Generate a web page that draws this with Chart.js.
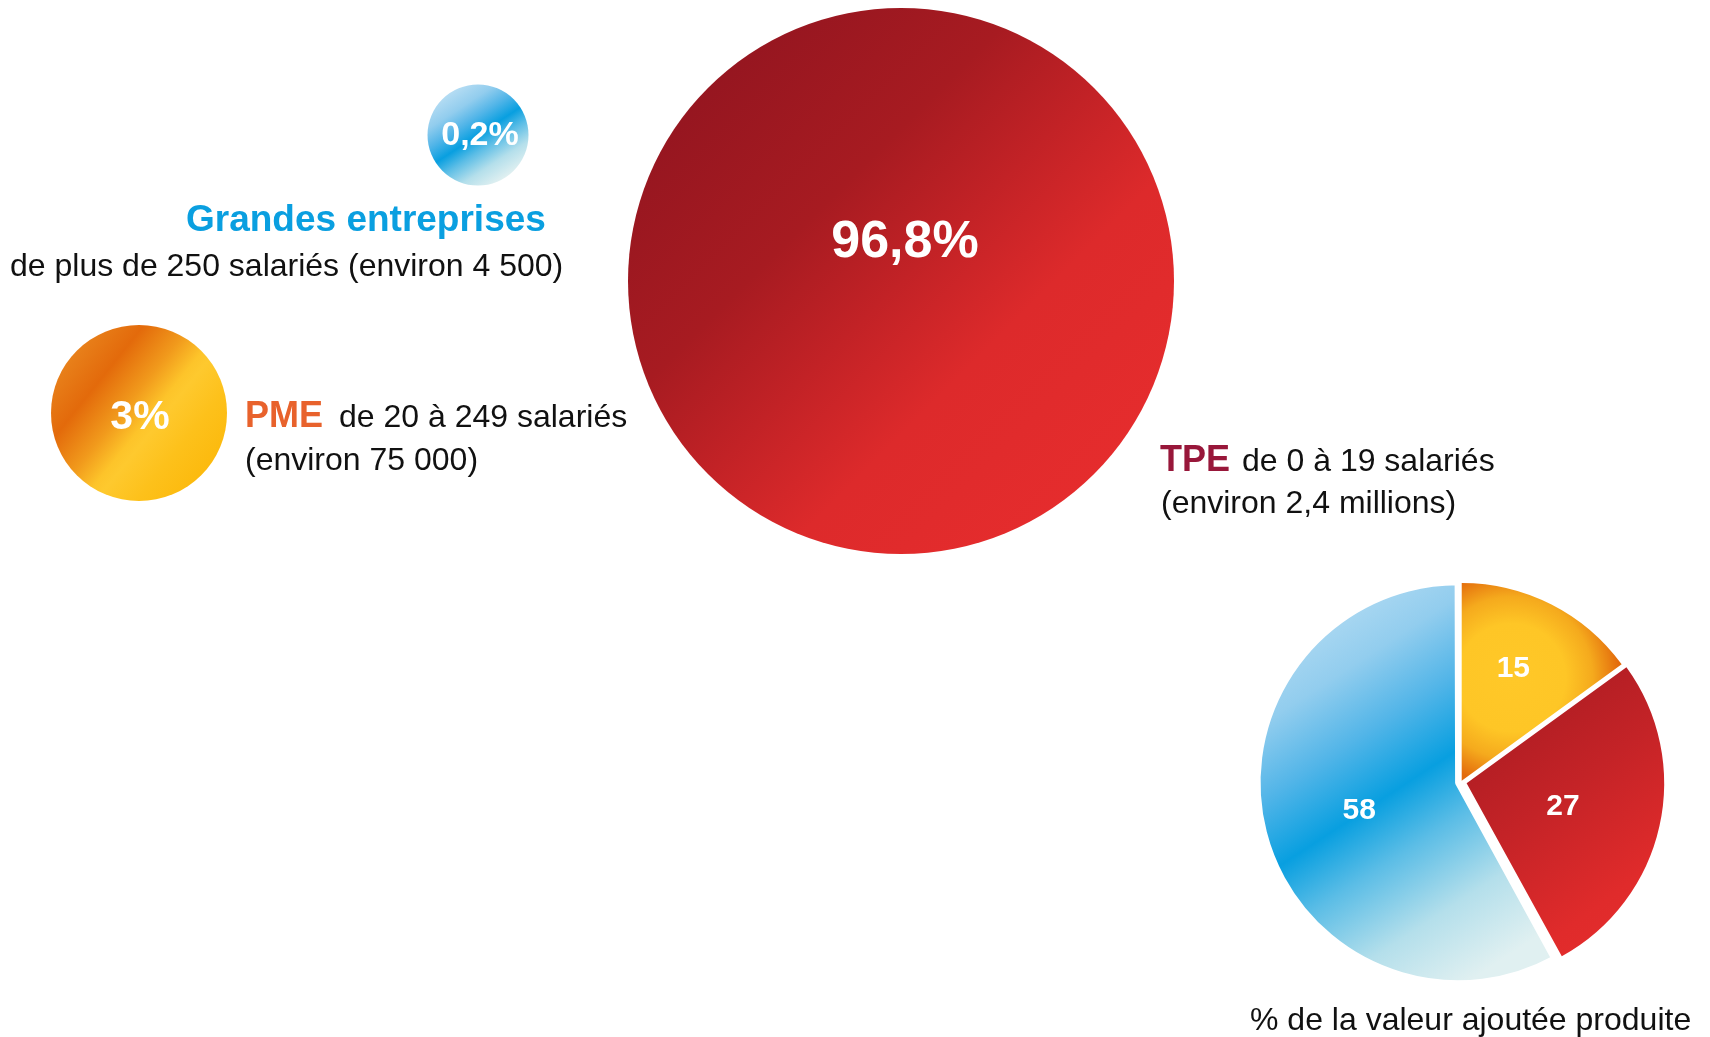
<!DOCTYPE html>
<html lang="fr">
<head>
<meta charset="utf-8">
<title>Entreprises par taille</title>
<script src="https://cdn.jsdelivr.net/npm/chart.js@4.4.1/dist/chart.umd.min.js"></script>
<style>
  html, body { margin:0; padding:0; background:#fff; }
  body { width:1710px; height:1037px; position:relative; overflow:hidden;
         font-family:"Liberation Sans", Arial, Helvetica, sans-serif; color:#111; }
  #bubbleBox { position:absolute; left:0; top:0; width:1710px; height:1037px; }
  #pieBox { position:absolute; left:1231px; top:552px; width:460px; height:460px; }
  .t { position:absolute; white-space:nowrap; line-height:1; font-size:32px; }
  .b { font-weight:bold; font-size:36px; line-height:1; }
</style>
</head>
<body>
<div id="bubbleBox"><canvas id="bubbles"></canvas></div>
<div id="pieBox"><canvas id="pie"></canvas></div>

<div class="t" style="left:186px;top:200px"><span class="b" style="color:#0a9fe0;font-size:37px">Grandes entreprises</span></div>
<div class="t" style="left:10px;top:249px">de plus de 250 salariés (environ 4 500)</div>

<div class="t" style="left:245px;top:397px"><span class="b" style="color:#e8622c">PME</span><span style="margin-left:16px">de 20 à 249 salariés</span></div>
<div class="t" style="left:245px;top:443px">(environ 75 000)</div>

<div class="t" style="left:1160px;top:441px"><span class="b" style="color:#98173a">TPE</span><span style="margin-left:12px">de 0 à 19 salariés</span></div>
<div class="t" style="left:1161px;top:486px">(environ 2,4 millions)</div>

<div class="t" style="left:1250px;top:1003px">% de la valeur ajoutée produite</div>

<script>
// values
const categories   = ["Grandes entreprises", "PME", "TPE"];
const shareOfFirms = [0.2, 3, 96.8];   // % du nombre d'entreprises
const valueAdded   = [58, 15, 27];     // % de la valeur ajoutée produite

// layout only (page pixels), not data
const bubbleLayout = {
  x: [478, 139, 901],
  y: [135, 413, 281],
  r: [50.5, 88, 273],
  labelDx: [2, 1, 4],
  labelDy: [10, 16, -24],
  labelSize: [34, 41, 52]
};
const pieOrder = [1, 2, 0];            // PME, TPE, Grandes from 12 o'clock
const PIE_R = 197.5;
const pieOffset = [6, 23, 12];         // chart.js moves a slice by offset/4
const pieBorder = [0, 0, 6];
const pieLabelPos = [0.617, 0.529, 0.532];
const pieLabelNudge = [[-3, -7], [0, 0], [0, 0]];
const FONT = '"Liberation Sans", Arial, sans-serif';

const BLUE = [[0,"#b4dcf3"],[0.18,"#92cdee"],[0.34,"#52b5e8"],[0.5,"#089fe0"],[0.64,"#5bbde6"],[0.82,"#b4dfeb"],[1,"#e0f0f1"]];
const ORANGE = [[0,"#e8801a"],[0.21,"#e36a0b"],[0.42,"#f19a1c"],[0.56,"#fdc42a"],[0.62,"#fec92e"],[0.8,"#fdc11b"],[1,"#fcba0e"]];
const RED = [[0,"#961620"],[0.3,"#a71b21"],[0.5,"#c22226"],[0.7,"#dd2a2b"],[1,"#e52c2d"]];
const ORANGE_RAD = [[0,"#ffc828"],[0.5,"#fec626"],[0.75,"#f5aa1d"],[1,"#e36b0c"]];
const RED_SLICE = [[0,"#a51a21"],[0.45,"#c42327"],[0.8,"#e02b2b"],[1,"#e52d2d"]];

function linear(ctx, cx, cy, half, dx, dy, stops){
  const g = ctx.createLinearGradient(cx-dx*half, cy-dy*half, cx+dx*half, cy+dy*half);
  stops.forEach(([o,c]) => g.addColorStop(o,c));
  return g;
}
function radial(ctx, cx, cy, rad, stops){
  const g = ctx.createRadialGradient(cx, cy, 0, cx, cy, rad);
  stops.forEach(([o,c]) => g.addColorStop(o,c));
  return g;
}

const bubbleFill = [
  (ctx,x,y,r) => linear(ctx, x, y, r, 0.546, 0.838, BLUE),
  (ctx,x,y,r) => linear(ctx, x, y, r, 0.78, 0.625, ORANGE),
  (ctx,x,y,r) => linear(ctx, x, y, r, 0.707, 0.707, RED)
];
const pieFill = [
  (ctx,cx,cy) => linear(ctx, cx-51, cy, 200, 0.546, 0.838, BLUE),
  (ctx,cx,cy) => radial(ctx, cx+50, cy-103, 108, ORANGE_RAD),
  (ctx,cx,cy) => linear(ctx, cx+98, cy+28, 160, 0.6, 0.8, RED_SLICE)
];

const fmtPct = v => String(v).replace(".", ",") + "%";

const bubbleLabels = {
  id: "bubbleLabels",
  afterDatasetsDraw(chart){
    const {ctx} = chart;
    ctx.save();
    ctx.fillStyle = "#fff";
    ctx.textAlign = "center";
    ctx.textBaseline = "alphabetic";
    chart.getDatasetMeta(0).data.forEach((el, i) => {
      ctx.font = `bold ${bubbleLayout.labelSize[i]}px ${FONT}`;
      ctx.fillText(fmtPct(shareOfFirms[i]), el.x + bubbleLayout.labelDx[i], el.y + bubbleLayout.labelDy[i]);
    });
    ctx.restore();
  }
};

const pieLabels = {
  id: "pieLabels",
  afterDatasetsDraw(chart){
    const {ctx} = chart;
    const vals = chart.data.datasets[0].data;
    ctx.save();
    ctx.fillStyle = "#fff";
    ctx.textAlign = "center";
    ctx.textBaseline = "alphabetic";
    ctx.font = `bold 30px ${FONT}`;
    chart.getDatasetMeta(0).data.forEach((arc, i) => {
      const p = arc.getProps(["x","y","startAngle","endAngle","outerRadius"], true);
      const mid = (p.startAngle + p.endAngle) / 2;
      const d = p.outerRadius * pieLabelPos[i];
      const [nx, ny] = pieLabelNudge[i];
      ctx.fillText(String(vals[i]), p.x + Math.cos(mid)*d + nx, p.y + Math.sin(mid)*d + 10.7 + ny);
    });
    ctx.restore();
  }
};

new Chart(document.getElementById("bubbles"), {
  type: "bubble",
  data: {
    labels: categories,
    datasets: [{
      data: shareOfFirms.map((v, i) => ({x: bubbleLayout.x[i], y: bubbleLayout.y[i], v})),
      radius: c => bubbleLayout.r[c.dataIndex] || 0,
      backgroundColor: c => {
        const ch = c.chart;
        if (!ch.chartArea || c.dataIndex == null) return "#ccc";
        const i = c.dataIndex;
        const px = ch.scales.x.getPixelForValue(bubbleLayout.x[i]);
        const py = ch.scales.y.getPixelForValue(bubbleLayout.y[i]);
        return bubbleFill[i](ch.ctx, px, py, bubbleLayout.r[i]);
      },
      borderWidth: 0,
      clip: false
    }]
  },
  options: {
    responsive: true, maintainAspectRatio: false, animation: false, events: [],
    layout: {padding: 0, autoPadding: false},
    scales: {
      x: {type: "linear", min: 0, max: 1710, display: false},
      y: {type: "linear", min: 0, max: 1037, reverse: true, display: false}
    },
    plugins: {legend: {display: false}, tooltip: {enabled: false}}
  },
  plugins: [bubbleLabels]
});

new Chart(document.getElementById("pie"), {
  type: "pie",
  data: {
    labels: pieOrder.map(i => categories[i]),
    datasets: [{
      data: pieOrder.map(i => valueAdded[i]),
      radius: PIE_R,
      backgroundColor: c => {
        const ch = c.chart, a = ch.chartArea;
        if (!a || c.dataIndex == null) return "#ccc";
        return pieFill[pieOrder[c.dataIndex]](ch.ctx, (a.left+a.right)/2, (a.top+a.bottom)/2);
      },
      borderColor: "#fff",
      borderWidth: pieBorder,
      offset: pieOffset
    }]
  },
  options: {
    responsive: true, maintainAspectRatio: false, animation: false, events: [],
    layout: {padding: 0},
    plugins: {legend: {display: false}, tooltip: {enabled: false}}
  },
  plugins: [pieLabels]
});
</script>
</body>
</html>
